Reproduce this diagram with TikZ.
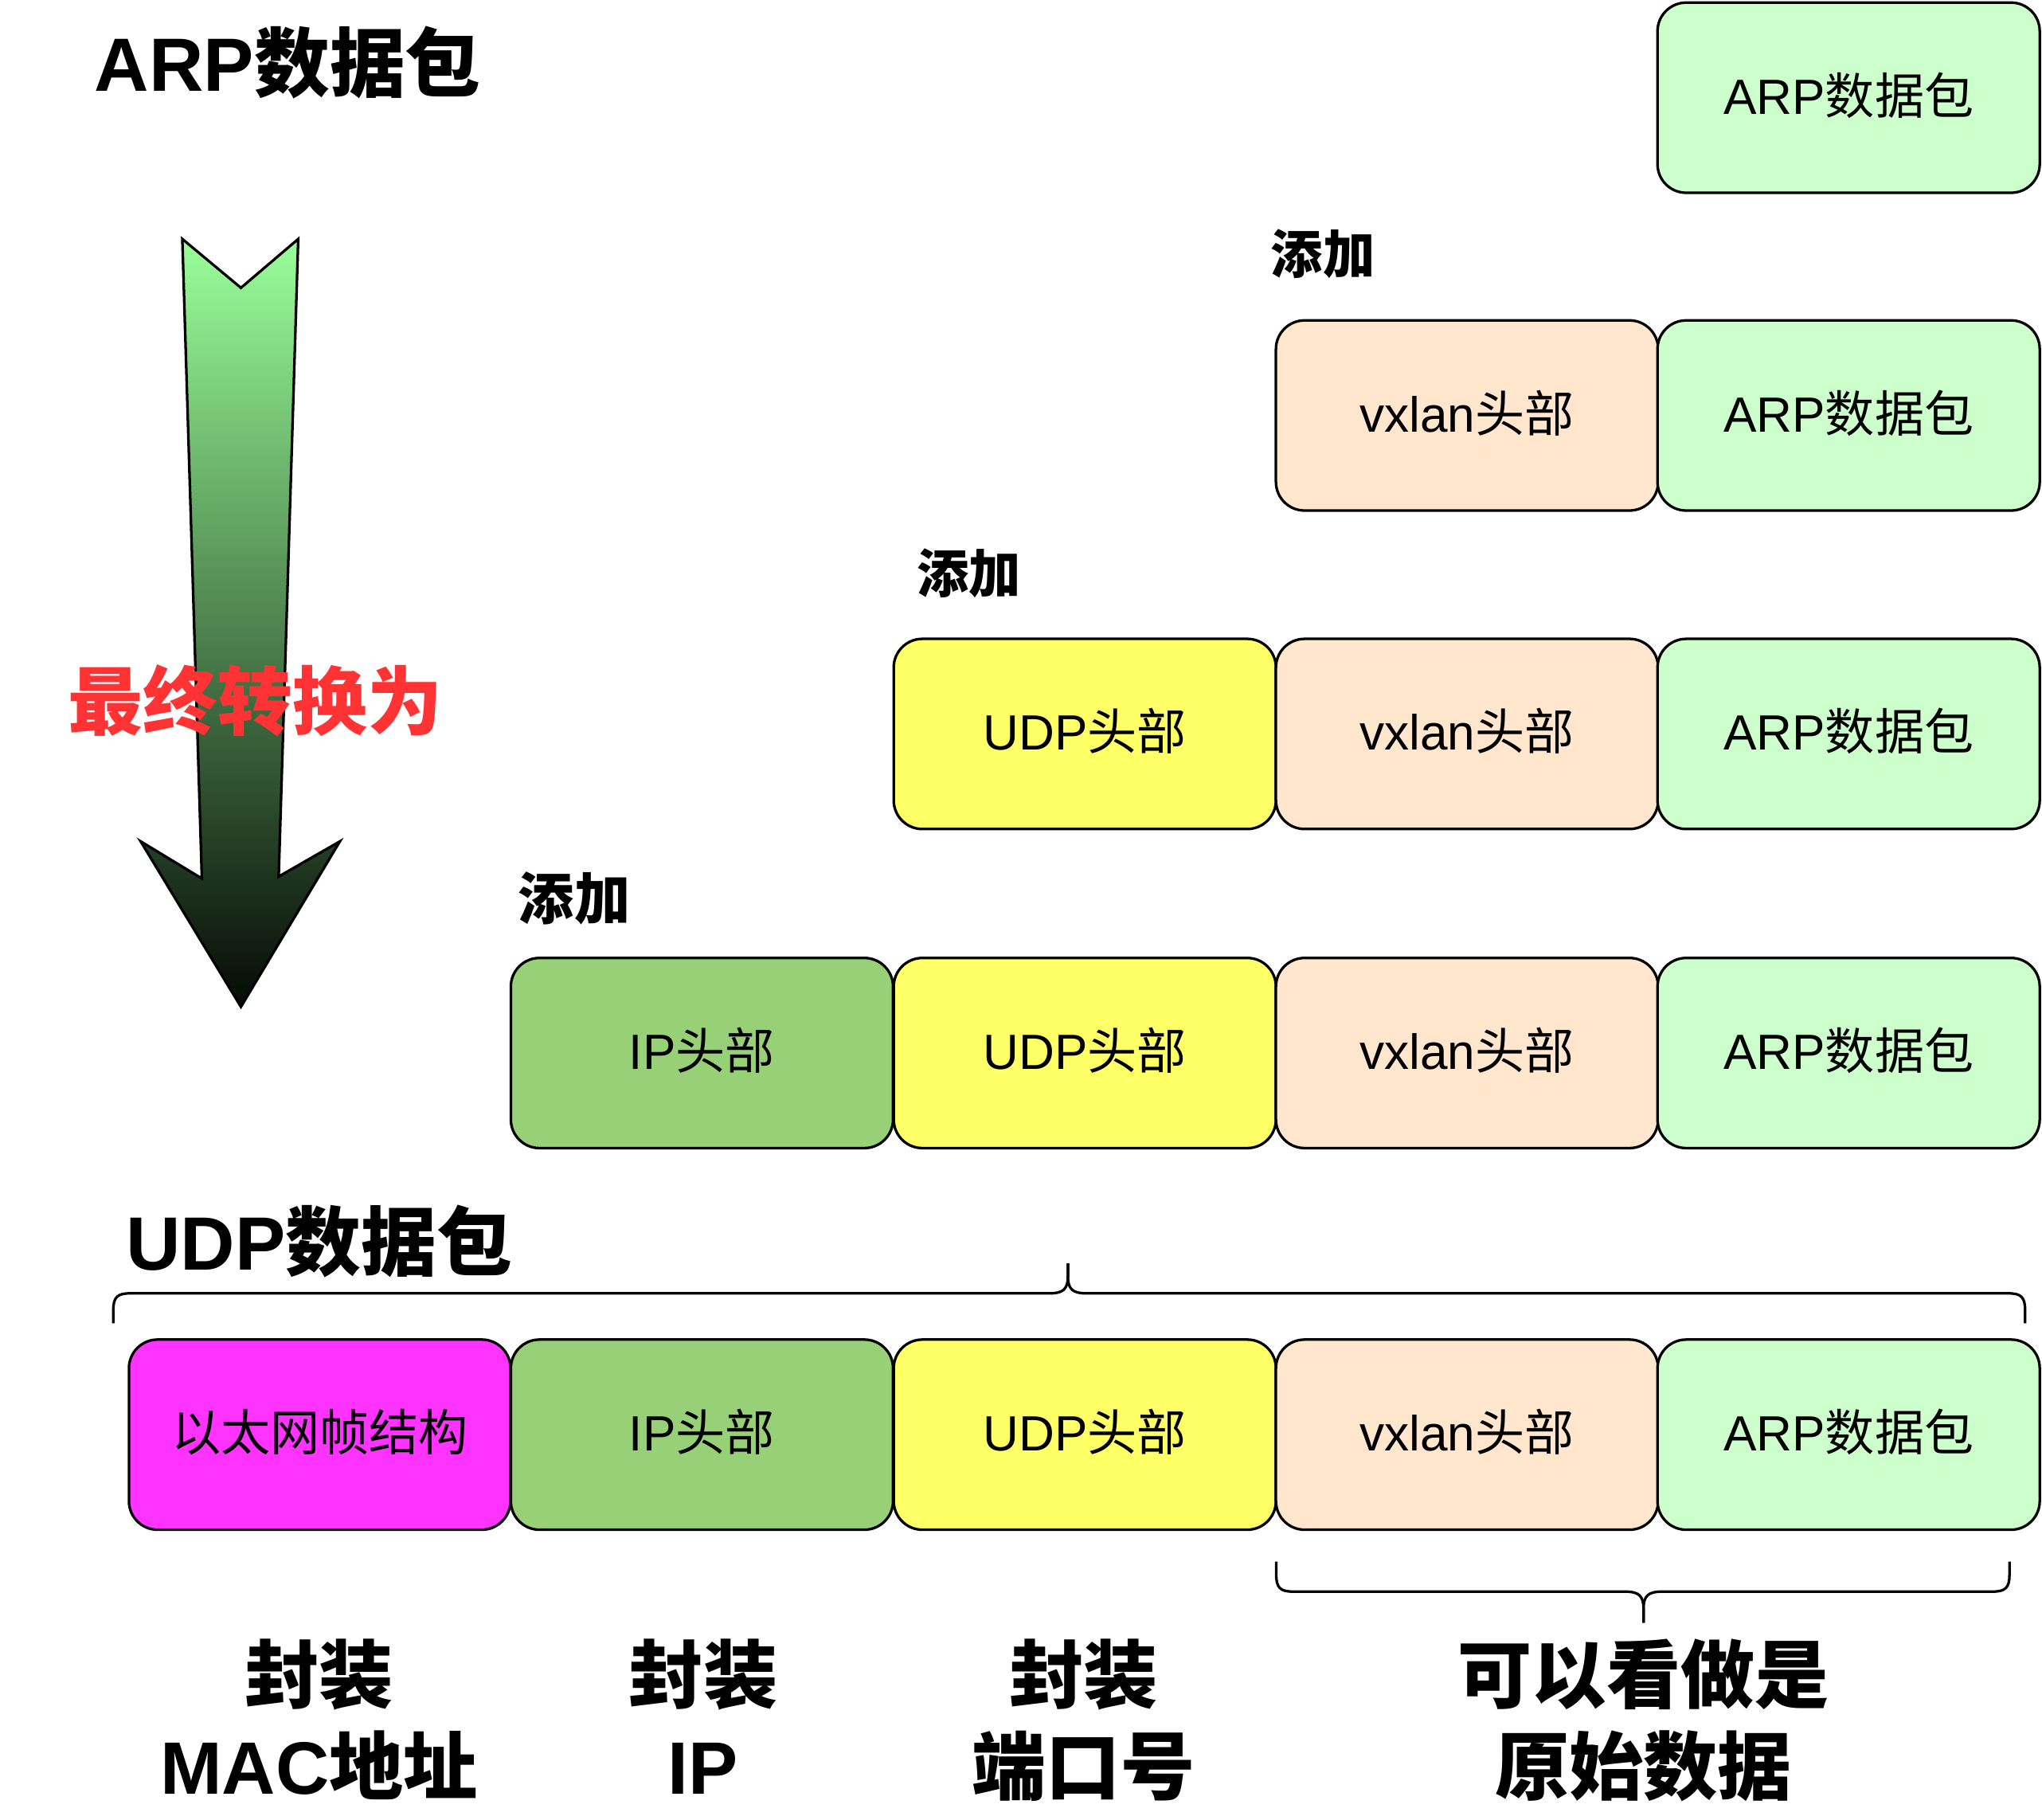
\documentclass[tikz,border=0pt]{standalone}
\usepackage{fontspec}
\setmainfont{Liberation Sans}
\newfontfamily\cjk{Noto Sans CJK SC}
\newcommand\zh[1]{{\cjk #1}}
\newcommand\lstrut{\rule[-10pt]{0pt}{55pt}}
\definecolor{arpc}{HTML}{CCFFCC}
\definecolor{vxc}{HTML}{FFE6CC}
\definecolor{udpc}{HTML}{FFFF66}
\definecolor{ipc}{HTML}{97D077}
\definecolor{ethc}{HTML}{FF33FF}
\definecolor{redt}{HTML}{FF3333}
\definecolor{topg}{HTML}{99FF99}
\definecolor{botg}{HTML}{050A05}
\tikzset{
  pkt/.style={draw, line width=2pt, rounded corners=22pt, minimum width=293.5pt,
    minimum height=146pt, inner sep=0pt, text height=33pt, text depth=8pt,
    font=\fontsize{38}{46}\selectfont},
  arpbox/.style={pkt, fill=arpc},
  vxbox/.style={pkt, fill=vxc},
  udpbox/.style={pkt, fill=udpc},
  ipbox/.style={pkt, fill=ipc},
  ethbox/.style={pkt, fill=ethc},
  addlbl/.style={font=\fontsize{40}{46}\selectfont\bfseries, inner sep=0pt},
  bigttl/.style={font=\fontsize{58}{66}\selectfont\bfseries, inner sep=0pt},
  botlbl/.style={font=\fontsize{57}{70}\selectfont\bfseries, inner sep=0pt, align=center},
  bracel/.style={line width=2pt, line join=round}
}
\begin{document}
\begin{tikzpicture}[x=1pt,y=-1pt]
\useasboundingbox (0,0) rectangle (1568,1397);

% big gradient arrow
\shade[top color=topg, bottom color=botg, draw=black, line width=2pt, line join=miter]
  (140,183.5) -- (185,221) -- (229,183.5) -- (214,673) -- (261,646) -- (185,773)
  -- (108,646) -- (155,674.5) -- cycle;
\node[font=\fontsize{57.5}{66}\selectfont\bfseries, text=redt, inner sep=0pt] (conv) at (196,538) {\zh{最终转换为}};

% titles
\node[bigttl] (t1) at (221,48) {ARP\zh{数据包}};
\node[bigttl] (t2) at (245,953) {UDP\zh{数据包}};

% row 1
\node[arpbox] (a1) at (1419.5,75) {ARP\zh{数据包}};
\node[addlbl] (add1) at (1016,195) {\zh{添加}};
% row 2
\node[vxbox] (v2) at (1126.5,319) {vxlan\zh{头部}};
\node[arpbox] (a2) at (1419.5,319) {ARP\zh{数据包}};
\node[addlbl] (add2) at (744,440) {\zh{添加}};
% row 3
\node[udpbox] (u3) at (833,563.5) {UDP\zh{头部}};
\node[vxbox] (v3) at (1126.5,563.5) {vxlan\zh{头部}};
\node[arpbox] (a3) at (1419.5,563.5) {ARP\zh{数据包}};
\node[addlbl, font=\fontsize{43}{48}\selectfont\bfseries] (add3) at (441,690) {\zh{添加}};
% row 4
\node[ipbox] (i4) at (539,808.5) {IP\zh{头部}};
\node[udpbox] (u4) at (833,808.5) {UDP\zh{头部}};
\node[vxbox] (v4) at (1126.5,808.5) {vxlan\zh{头部}};
\node[arpbox] (a4) at (1419.5,808.5) {ARP\zh{数据包}};
% row 5
\node[ethbox, minimum width=293pt] (e5) at (245.5,1101.5) {\zh{以太网帧结构}};
\node[ipbox] (i5) at (539,1101.5) {IP\zh{头部}};
\node[udpbox] (u5) at (833,1101.5) {UDP\zh{头部}};
\node[vxbox] (v5) at (1126.5,1101.5) {vxlan\zh{头部}};
\node[arpbox] (a5) at (1419.5,1101.5) {ARP\zh{数据包}};

% top brace
\draw[bracel] (87,1016) -- (87,1006) .. controls (87,996) and (90,993) .. (100,993)
  -- (806,993) .. controls (816,993) and (820,990) .. (820,980) -- (820,970);
\draw[bracel] (820,970) -- (820,980) .. controls (820,990) and (824,993) .. (834,993)
  -- (1542,993) .. controls (1552,993) and (1555,996) .. (1555,1006) -- (1555,1016);

% bottom brace
\draw[bracel] (980,1199) -- (980,1209) .. controls (980,1219) and (983,1222) .. (993,1222)
  -- (1248,1222) .. controls (1258,1222) and (1262,1225) .. (1262,1235) -- (1262,1246);
\draw[bracel] (1262,1246) -- (1262,1235) .. controls (1262,1225) and (1266,1222) .. (1276,1222)
  -- (1530,1222) .. controls (1540,1222) and (1543,1219) .. (1543,1209) -- (1543,1199);

% bottom labels
\node[botlbl] (l1) at (245,1323) {\lstrut\zh{封装}\\\lstrut MAC\zh{地址}};
\node[botlbl] (l2) at (540,1323) {\lstrut\zh{封装}\\\lstrut IP};
\node[botlbl] (l3) at (832,1323) {\lstrut\zh{封装}\\\lstrut\zh{端口号}};
\node[botlbl] (l4) at (1262,1323) {\lstrut\zh{可以看做是}\\\lstrut\zh{原始数据}};
\end{tikzpicture}
\end{document}
